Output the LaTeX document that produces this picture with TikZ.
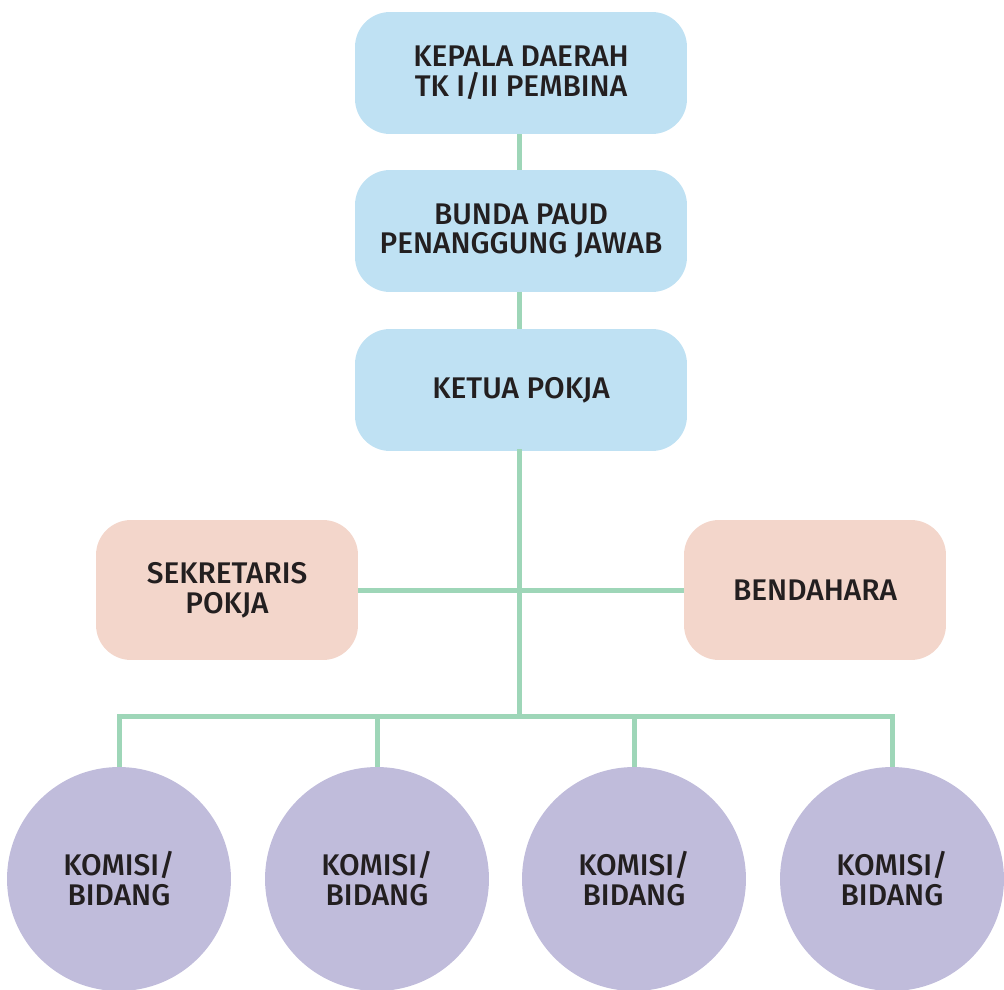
\documentclass[tikz,border=0pt]{standalone}
\usepackage{fontspec}
\setmainfont{Fira Sans}[UprightFont=* Medium]
\usepackage{tikz}
\usetikzlibrary{shapes, arrows, calc, positioning}

\definecolor{boxblue}{HTML}{BFE1F3}
\definecolor{boxpeach}{HTML}{F3D6CB}
\definecolor{circlilac}{HTML}{C0BCDB}
\definecolor{linegreen}{HTML}{9ED6B8}
\definecolor{textdark}{HTML}{231F20}

\begin{document}
\begin{tikzpicture}[x=0.02cm, y=-0.02cm, font=\fontsize{17}{17}\selectfont]
	\tikzstyle{pimpinan} = [fill=boxblue, rounded corners=0.7cm, minimum width=6.64cm, minimum height=2.44cm, align=center, text=textdark, inner sep=0pt]
	\tikzstyle{staf} = [fill=boxpeach, rounded corners=0.7cm, minimum width=5.24cm, minimum height=2.8cm, align=center, text=textdark, inner sep=0pt]
	\tikzstyle{komisi} = [fill=circlilac, circle, minimum size=4.48cm, align=center, text=textdark, inner sep=0pt]
	\tikzstyle{garis} = [draw=linegreen, line width=0.1cm]

	\useasboundingbox (0,0) rectangle (1004,990);

	\path
		node[pimpinan] (kepala) at (521,73) {KEPALA DAERAH\\TK I/II PEMBINA}
		node[pimpinan] (bunda) at (521,231) {BUNDA PAUD\\PENANGGUNG JAWAB}
		node[pimpinan] (ketua) at (521,390) {KETUA POKJA}

		node[staf] (sekre) at (227,590) {SEKRETARIS\\POKJA}
		node[staf] (benda) at (815,590) {BENDAHARA}

		node[komisi] (k1) at (119,879) {KOMISI/\\BIDANG}
		node[komisi] (k2) at (377,879) {KOMISI/\\BIDANG}
		node[komisi] (k3) at (634,879) {KOMISI/\\BIDANG}
		node[komisi] (k4) at (892,879) {KOMISI/\\BIDANG}
	;

	% garis penghubung
	\coordinate (bus) at (519,716);
	\draw[garis] (kepala.south -| bus) -- (bunda.north -| bus);
	\draw[garis] (bunda.south -| bus) -- (ketua.north -| bus);
	\draw[garis, line cap=rect] (ketua.south -| bus) -- (bus);
	\draw[garis] (sekre.east) -- (benda.west);
	\foreach \n in {1,...,4}
		\draw[garis] (bus) -| (k\n.north);
\end{tikzpicture}
\end{document}
